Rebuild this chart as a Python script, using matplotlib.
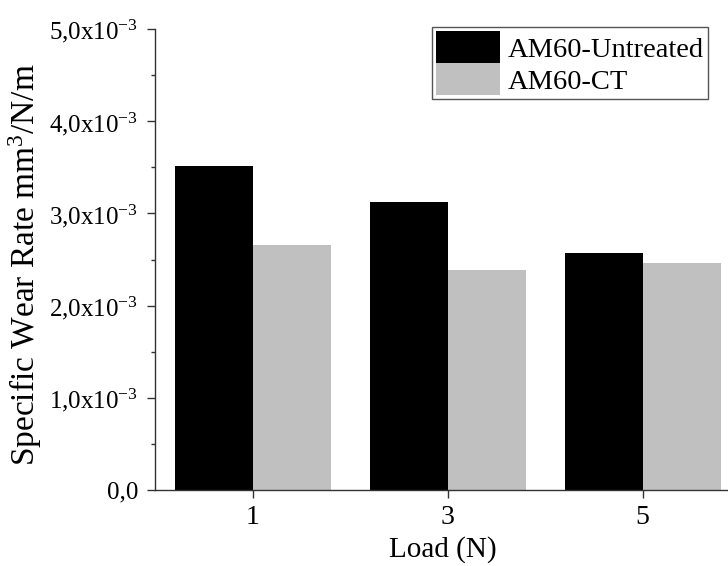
import matplotlib
matplotlib.use('Agg')
import matplotlib.pyplot as plt
import numpy as np
from matplotlib.ticker import FuncFormatter, MultipleLocator

loads = ['1', '3', '5']
untreated = [3.51e-3, 3.12e-3, 2.57e-3]
cryo = [2.66e-3, 2.39e-3, 2.46e-3]

plt.rcParams['font.family'] = 'Liberation Serif'
plt.rcParams['mathtext.fontset'] = 'custom'
plt.rcParams['mathtext.rm'] = 'Liberation Serif'
plt.rcParams['mathtext.it'] = 'Liberation Serif:italic'

def fmt(v, pos):
    if abs(v) < 1e-12:
        return '0,0'
    return ('%.1f' % (v / 1e-3)).replace('.', ',') + 'x10$^{-3}$'

fig = plt.figure(figsize=(7.28, 5.66), dpi=100)
ax = fig.add_axes([155 / 728, 76 / 566, 585 / 728, 461 / 566])

x = np.arange(len(loads))
w = 0.4
ax.bar(x - w / 2, untreated, w, color='black', label='AM60-Untreated')
ax.bar(x + w / 2, cryo, w, color='#c0c0c0', label='AM60-CT')

ax.set_xlim(-0.5, 2.5)
ax.set_ylim(0, 5e-3)
ax.set_xticks(x)
ax.set_xticklabels(loads)
ax.yaxis.set_major_locator(MultipleLocator(1e-3))
ax.yaxis.set_minor_locator(MultipleLocator(0.5e-3))
ax.yaxis.set_major_formatter(FuncFormatter(fmt))

for s in ['top', 'right']:
    ax.spines[s].set_visible(False)
for s in ['left', 'bottom']:
    ax.spines[s].set_color('#333333')
    ax.spines[s].set_linewidth(1.0)

ax.tick_params(axis='both', which='major', length=6, width=1, color='#333333')
ax.tick_params(axis='y', which='major', labelsize=18, pad=6)
ax.tick_params(axis='x', which='major', labelsize=20, pad=5)
ax.tick_params(axis='y', which='minor', length=3, width=1, color='#333333')

ax.set_xlabel('Load (N)', fontsize=21)
ax.set_ylabel('Specific Wear Rate mm$^3$/N/m', fontsize=24)
ax.xaxis.set_label_coords(443 / 728, 1 - 536 / 566, transform=fig.transFigure)
ax.yaxis.set_label_coords(44 / 728, 1 - 265 / 566, transform=fig.transFigure)

fig.legend(loc='upper left', bbox_to_anchor=(432 / 728, 1 - 27 / 566),
           fontsize=20.5, frameon=True, fancybox=False, edgecolor='#555555',
           framealpha=1, handlelength=2.25, handleheight=1.35,
           labelspacing=0.0, borderpad=0.15, handletextpad=0.25,
           borderaxespad=0)

fig.savefig('out.png', dpi=100)
